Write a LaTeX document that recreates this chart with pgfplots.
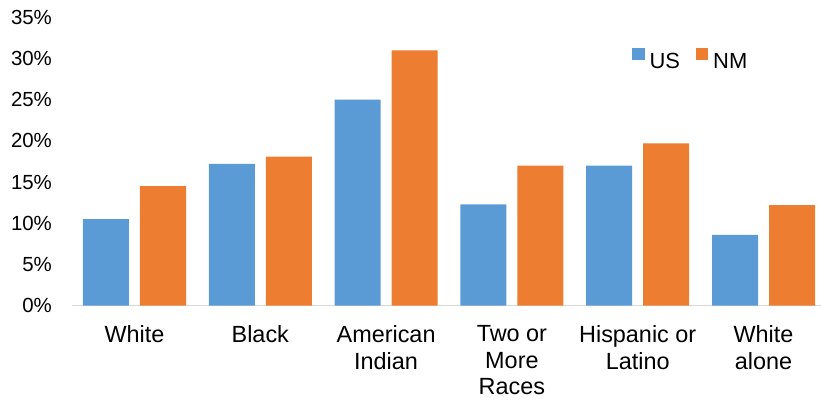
\documentclass[border=0pt]{standalone}
\usepackage{fontspec}
\setmainfont{Liberation Sans}
\usepackage{pgfplots}
\pgfplotsset{compat=1.18}
\definecolor{usblue}{HTML}{5B9BD5}
\definecolor{nmorange}{HTML}{ED7D31}
\definecolor{axisgray}{HTML}{D9D9D9}
\begin{document}
\begin{tikzpicture}
% page frame (the title sits partly above it)
\path[use as bounding box] (-71.6bp,-96.3bp) rectangle (749.4bp,305.7bp);
\begin{axis}[
  at={(0,0)}, anchor=south west,
  scale only axis,
  width=754.8bp, height=288.4bp,
  xmin=-0.5, xmax=5.5,
  ymin=0, ymax=35,
  ybar, bar width=46bp,
  enlargelimits=false,
  axis lines*=left,
  y axis line style={draw=none},
  x axis line style={draw=axisgray, line width=1.2bp},
  major tick length=0pt,
  tick style={draw=none},
  xtick={0,1,2,3,4,5},
  xticklabels={{White},{Black},{American\\Indian},{Two or\\More\\Races},{Hispanic or\\Latino},{White\\alone}},
  xticklabel style={align=center, anchor=north, inner sep=0pt, yshift=-19.8bp,
    font=\fontsize{23.5}{26.5}\selectfont},
  ytick={0,5,...,35},
  yticklabel={\pgfmathprintnumber{\tick}\%},
  yticklabel style={anchor=east, inner sep=0pt, xshift=-19.5bp,
    font=\fontsize{20.5}{24}\selectfont},
  /pgf/number format/assume math mode=true,
  title={2022},
  title style={at={(0.4616,1.0496)}, anchor=base, inner sep=0pt,
    font=\fontsize{22}{26}\selectfont\bfseries},
  legend columns=2,
  legend style={at={(0.7425,0.8554)}, anchor=west, draw=none, fill=none,
    inner sep=0pt, outer sep=0pt, column sep=5bp,
    nodes={inner sep=0pt}, font=\fontsize{22}{26}\selectfont,
    /tikz/every even column/.append style={column sep=15.7bp}},
  legend cell align=left,
]
\addplot[fill=usblue, draw=none, bar shift=-28.5bp,
  legend image code/.code={\fill[usblue] (0bp,1.7bp) rectangle (12.5bp,14.2bp);}]
  coordinates {(0,10.5) (1,17.2) (2,25.0) (3,12.3) (4,17.0) (5,8.6)};
\addplot[fill=nmorange, draw=none, bar shift=28.5bp,
  legend image code/.code={\fill[nmorange] (0bp,1.7bp) rectangle (12.5bp,14.2bp);}]
  coordinates {(0,14.5) (1,18.1) (2,31.0) (3,17.0) (4,19.7) (5,12.2)};
\legend{US,NM}
\end{axis}
\end{tikzpicture}
\end{document}
